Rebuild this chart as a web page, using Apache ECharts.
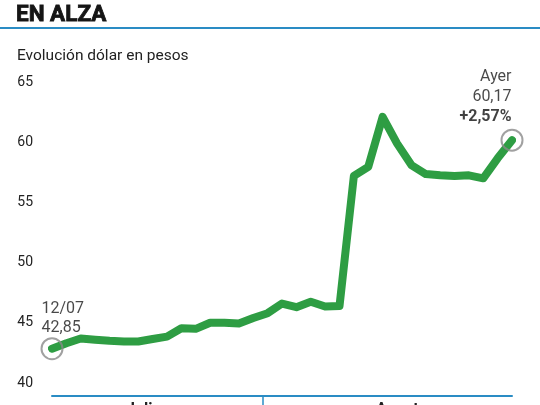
<!DOCTYPE html>
<html>
<head>
<meta charset="utf-8">
<script src="https://cdn.jsdelivr.net/npm/echarts@6/dist/echarts.min.js"></script>
<style>
  html, body { margin: 0; padding: 0; background: #fff; }
  #chart { width: 540px; height: 405px; }
</style>
</head>
<body>
<div id="chart"></div>
<script>
// fechas (rueda a rueda) y cotizacion del dolar
const fechas = ['12/07', '15/07', '16/07', '17/07', '18/07', '19/07', '22/07', '23/07', '24/07', '25/07',
  '26/07', '29/07', '30/07', '31/07', '01/08', '02/08', '05/08', '06/08', '07/08', '08/08',
  '09/08', '12/08', '13/08', '14/08', '15/08', '16/08', '20/08', '21/08', '22/08', '23/08',
  '26/08', '27/08', '28/08']
const dolar = [42.85, 43.3, 43.7, 43.6, 43.5, 43.45, 43.45, 43.65, 43.85, 44.55,
  44.5, 45.0, 45.0, 44.95, 45.4, 45.8, 46.6, 46.3, 46.75, 46.35,
  46.4, 57.2, 57.95, 62.1, 59.9, 58.1, 57.35, 57.25, 57.2, 57.25,
  57.0, 58.66, 60.17]
const yTicks = [40, 45, 50, 55, 60, 65]
const meses = ['Julio', 'Agosto']

const first = 0
const last = dolar.length - 1

const chart = echarts.init(document.getElementById('chart'))

const option = {
  backgroundColor: '#fff',
  animation: false,
  title: [
    {
      text: 'EN ALZA',
      left: 16,
      top: 4,
      padding: 0,
      textStyle: {
        fontFamily: 'Roboto', fontWeight: 'bold', fontSize: 22.5, color: '#151515',
        textBorderColor: '#151515', textBorderWidth: 0.8
      }
    },
    {
      text: 'Evolución dólar en pesos',
      left: 17,
      top: 48,
      padding: 0,
      textStyle: { fontFamily: 'Roboto', fontWeight: 'normal', fontSize: 15.5, color: '#222' }
    }
  ],
  grid: { left: 52, right: 28, top: 82, bottom: 22 },
  xAxis: {
    type: 'category',
    data: fechas,
    boundaryGap: false,
    offset: 13,
    axisLine: { show: true, lineStyle: { color: '#2a8cc4', width: 2 } },
    axisTick: { show: false },
    axisLabel: { show: false },
    splitLine: { show: false }
  },
  yAxis: {
    type: 'value',
    min: yTicks[0],
    max: yTicks[yTicks.length - 1],
    interval: 5,
    axisLine: { show: false },
    axisTick: { show: false },
    splitLine: { show: false },
    axisLabel: {
      margin: 19,
      color: '#222',
      fontFamily: 'Roboto',
      fontSize: 14
    }
  },
  series: [
    {
      type: 'line',
      data: dolar,
      symbol: 'none',
      lineStyle: { color: '#2e9d43', width: 8, join: 'round', cap: 'round' },
      z: 2
    },
    {
      type: 'scatter',
      symbol: 'circle',
      symbolSize: 21,
      itemStyle: { color: 'rgba(0,0,0,0)', borderColor: '#8a8a8a', borderWidth: 2 },
      z: 3,
      data: [
        {
          value: [first, dolar[first]],
          label: {
            show: true,
            position: [1, -38],
            align: 'left',
            verticalAlign: 'top',
            lineHeight: 19,
            fontFamily: 'Roboto',
            fontSize: 16,
            color: '#1a1a1a',
            formatter: fechas[first] + '\n' + dolar[first].toFixed(2).replace('.', ',')
          }
        },
        {
          value: [last, dolar[last]],
          label: {
            show: true,
            position: [11, -62],
            align: 'right',
            verticalAlign: 'top',
            lineHeight: 20,
            fontFamily: 'Roboto',
            fontSize: 16,
            color: '#1a1a1a',
            formatter: '{a|Ayer}\n{a|' + dolar[last].toFixed(2).replace('.', ',') + '}\n{b|+' +
              ((dolar[last] / dolar[last - 1] - 1) * 100).toFixed(2).replace('.', ',') + '%}',
            rich: {
              a: { fontFamily: 'Roboto', fontSize: 16, color: '#1a1a1a', lineHeight: 20, align: 'right' },
              b: { fontFamily: 'Roboto', fontSize: 16, fontWeight: 'bold', color: '#111', lineHeight: 20, align: 'right' }
            }
          }
        }
      ]
    }
  ],
  graphic: [
    { type: 'line', shape: { x1: 0, y1: 28, x2: 540, y2: 28 }, style: { stroke: '#2a8cc4', lineWidth: 2 } },
    { type: 'line', shape: { x1: 263, y1: 396, x2: 263, y2: 405 }, style: { stroke: '#2a8cc4', lineWidth: 1.5 } },
    { type: 'text', left: 126, top: 402, style: { text: meses[0], font: 'bold 16px Roboto', fill: '#222' } },
    { type: 'text', left: 376, top: 402, style: { text: meses[1], font: 'bold 16px Roboto', fill: '#222' } }
  ]
}

chart.setOption(option)
</script>
</body>
</html>
